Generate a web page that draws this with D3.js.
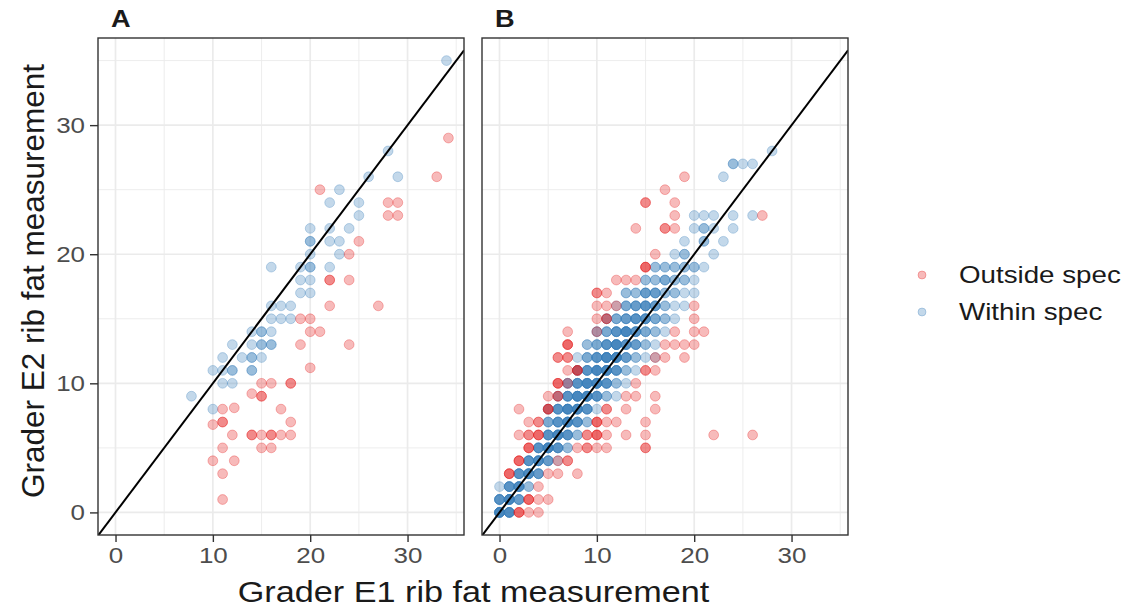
<!DOCTYPE html>
<html>
<head>
<meta charset="utf-8">
<script src="https://cdn.jsdelivr.net/npm/d3@7"></script>
<style>
  body { margin: 0; background: #fff; }
  svg { display: block; font-family: "Liberation Sans", Arial, sans-serif; }
</style>
</head>
<body>
<svg id="chart" width="1126" height="607"></svg>
<script>
// ---- data ----
const panels = ["A", "B"];
const groups = ["Outside spec", "Within spec"];
const groupColors = ["#E41A1C", "#377EB8"];
const xTicks = [0, 10, 20, 30];
const yTicks = [0, 10, 20, 30];
const minorTicks = [5, 15, 25, 35];
const xTitle = "Grader E1 rib fat measurement";
const yTitle = "Grader E2 rib fat measurement";

// panel A: [E1, E2]
const aWithin = [
  [34,35],[28,28],[26,26],[29,26],[23,25],[22,24],[25,24],[25,23],[20,22],[22,22],
  [24,22],[20,21],[20,21],[22,21],[23,21],[23,20],[20,20],[16,19],[19,19],[20,19],
  [20,19],[22,19],[19,18],[20,18],[19,17],[20,17],[16,16],[17,16],[18,16],[16,15],
  [17,15],[18,15],[14,14],[15,14],[15,14],[16,14],[12,13],[14,13],[15,13],[15,13],
  [16,13],[16,13],[11,12],[13,12],[14,12],[14,12],[15,12],[10,11],[11,11],[12,11],
  [12,11],[14,11],[14,11],[11,10],[12,10],[10,8],[7.8,9]
];
const aOutside = [
  [34.2,29],[33,26],[21,25],[28,24],[29,24],[28,23],[29,23],[25,21],[24,20],[22,18],
  [22,18],[24,18],[22,16],[27,16],[19,15],[20,15],[20,14],[21,14],[19,13],[24,13],
  [20,11.2],[15,10],[16,10],[18,10],[18,10],[14,9.2],[15,9],[15,9],[17,8],[11,8],
  [12.2,8.1],[18,7],[11,7],[11,7],[10,6.8],[12,6],[14,6],[14,6],[15,6],[16,6],
  [16,6],[17,6],[18,6],[11,5],[15,5],[16,5],[10,4],[12.2,4],[11,3],[11,1]
];

// panel B: rows of [E2, [[E1, count], ...]]
const bWithinRows = [
  [0, [[0,7],[1,6]]],
  [1, [[0,5],[1,7],[2,4]]],
  [2, [[0,1],[1,5],[2,6],[3,2]]],
  [3, [[2,5],[3,6],[4,4]]],
  [4, [[3,5],[4,6],[5,4],[6,1]]],
  [5, [[4,5],[5,7],[6,5],[7,2]]],
  [6, [[5,5],[6,7],[7,5],[8,2]]],
  [7, [[5,3],[6,5],[7,7],[8,5],[9,2]]],
  [8, [[5,2],[6,5],[7,7],[8,7],[9,5],[10,1]]],
  [9, [[6,2],[7,5],[8,7],[9,7],[10,5],[11,2],[12,1]]],
  [10, [[7,3],[8,5],[9,7],[10,7],[11,5],[12,2],[13,1]]],
  [11, [[8,3],[9,5],[10,7],[11,7],[12,5],[13,2],[14,1]]],
  [12, [[8,1],[9,3],[10,5],[11,7],[12,7],[13,4],[14,2],[15,1],[16,1]]],
  [13, [[9,2],[10,3],[11,5],[12,7],[13,5],[14,4],[15,2],[16,1]]],
  [14, [[10,2],[11,3],[12,5],[13,7],[14,5],[15,3],[16,2],[17,1]]],
  [15, [[11,2],[12,3],[13,4],[14,5],[15,5],[16,3],[17,2],[18,1]]],
  [16, [[12,1],[13,3],[14,4],[15,5],[16,4],[17,2],[18,1],[19,1]]],
  [17, [[13,2],[14,2],[15,4],[16,4],[17,2],[18,2],[19,1],[20,1]]],
  [18, [[15,2],[16,2],[17,3],[18,2],[19,2],[20,1]]],
  [19, [[16,2],[17,2],[18,2],[19,2],[20,2],[21,1]]],
  [20, [[18,1],[19,2],[22,1]]],
  [21, [[19,1],[21,2],[23,1]]],
  [22, [[20,1],[21,2],[22,1],[24,1]]],
  [23, [[20,1],[21,1],[22,1],[24,1],[26,1]]],
  [26, [[23,1]]],
  [27, [[24,2],[25,1],[26,1]]],
  [28, [[28,1]]]
];
const bOutsideRows = [
  [0, [[2,3],[3,1],[4,1]]],
  [1, [[3,3],[4,1],[5,1]]],
  [2, [[4,1]]],
  [3, [[1,3],[5,1],[6,1],[8,1]]],
  [4, [[2,3],[6,1],[7,2]]],
  [5, [[3,3],[8,1],[9,2],[10,1],[11,1],[15,2]]],
  [6, [[2,1],[3,2],[4,3],[9,2],[10,3],[11,1],[13,1],[15,1],[22,1],[26,1]]],
  [7, [[3,1],[4,2],[10,3],[11,1],[12,1],[15,1]]],
  [8, [[2,1],[5,3],[11,2],[13,1],[16,1]]],
  [9, [[5,1],[6,2],[13,1],[14,1],[16,1]]],
  [10, [[6,3],[7,1],[14,1]]],
  [11, [[7,1],[8,3],[15,2],[16,1]]],
  [12, [[6,2],[7,2],[16,1],[17,1],[19,1]]],
  [13, [[7,3],[17,1],[18,1],[19,1],[20,1]]],
  [14, [[7,1],[10,1],[18,1],[20,1],[21,1]]],
  [15, [[10,1],[11,2],[20,1]]],
  [16, [[10,1],[11,1],[12,1],[20,1]]],
  [17, [[10,2],[11,1]]],
  [18, [[12,1],[13,1],[14,1]]],
  [19, [[15,3]]],
  [20, [[16,1]]],
  [22, [[14,1],[17,2],[18,1]]],
  [23, [[18,1],[27,1]]],
  [24, [[15,2],[18,1]]],
  [25, [[17,1]]],
  [26, [[19,1]]]
];

// ---- layout ----
const SX = 1.18; // text in the reference is drawn a bit wide
const xDomain = [-1.8, 35.8];
const yDomain = [-1.75, 36.75];
const panelLeft = [98, 482];
const panelW = 366;
const panelTop = 38;
const panelBottom = 535;

const svg = d3.select("#chart");

const y = d3.scaleLinear().domain(yDomain).range([panelBottom, panelTop]);

// expand [E2, [[E1, n]]] rows into one point per observation
function rowsToPoints(rows) {
  const pts = [];
  rows.forEach(([e2, cells]) =>
    cells.forEach(([e1, n]) => {
      for (let k = 0; k < n; k++) pts.push([e1, e2]);
    })
  );
  return pts;
}

const panelData = [
  { within: aWithin, outside: aOutside },
  { within: rowsToPoints(bWithinRows), outside: rowsToPoints(bOutsideRows) }
];

function stretchedText(g, x, yy, txt) {
  return g.append("text")
    .attr("transform", `translate(${x},${yy}) scale(${SX},1)`)
    .text(txt);
}

panels.forEach((name, i) => {
  const x = d3.scaleLinear().domain(xDomain).range([panelLeft[i], panelLeft[i] + panelW]);
  const g = svg.append("g");

  g.append("clipPath").attr("id", "clip" + i)
    .append("rect")
    .attr("x", panelLeft[i]).attr("y", panelTop)
    .attr("width", panelW).attr("height", panelBottom - panelTop);

  // grid
  const grid = g.append("g").attr("stroke", "#ebebeb").attr("fill", "none");
  minorTicks.forEach((t) => {
    grid.append("line").attr("stroke-width", 0.9)
      .attr("x1", x(t)).attr("x2", x(t)).attr("y1", panelTop).attr("y2", panelBottom);
    grid.append("line").attr("stroke-width", 0.9)
      .attr("x1", panelLeft[i]).attr("x2", panelLeft[i] + panelW).attr("y1", y(t)).attr("y2", y(t));
  });
  xTicks.forEach((t) => {
    grid.append("line").attr("stroke-width", 1.7)
      .attr("x1", x(t)).attr("x2", x(t)).attr("y1", panelTop).attr("y2", panelBottom);
  });
  yTicks.forEach((t) => {
    grid.append("line").attr("stroke-width", 1.7)
      .attr("x1", panelLeft[i]).attr("x2", panelLeft[i] + panelW).attr("y1", y(t)).attr("y2", y(t));
  });

  // points
  const pg = g.append("g").attr("clip-path", `url(#clip${i})`);
  [["within", 1], ["outside", 0]].forEach(([key, ci]) => {
    pg.selectAll("circle." + key)
      .data(panelData[i][key])
      .join("circle")
      .attr("class", key)
      .attr("cx", (d) => x(d[0]))
      .attr("cy", (d) => y(d[1]))
      .attr("r", 4.9)
      .attr("fill", groupColors[ci])
      .attr("fill-opacity", 0.3)
      .attr("stroke", groupColors[ci])
      .attr("stroke-opacity", 0.3)
      .attr("stroke-width", 1);
  });

  // identity line
  pg.append("line")
    .attr("x1", x(xDomain[0])).attr("y1", y(xDomain[0]))
    .attr("x2", x(xDomain[1])).attr("y2", y(xDomain[1]))
    .attr("stroke", "#000").attr("stroke-width", 2);

  // border
  g.append("rect")
    .attr("x", panelLeft[i]).attr("y", panelTop)
    .attr("width", panelW).attr("height", panelBottom - panelTop)
    .attr("fill", "none").attr("stroke", "#333").attr("stroke-width", 1.4);

  // x axis
  const xa = g.append("g")
    .attr("transform", `translate(0,${panelBottom})`)
    .call(d3.axisBottom(x).tickValues(xTicks).tickSize(7).tickPadding(5));
  xa.select(".domain").remove();
  xa.selectAll(".tick line").attr("stroke", "#333").attr("stroke-width", 1.4);
  xa.selectAll(".tick text")
    .attr("fill", "#4d4d4d").attr("font-size", 22)
    .attr("transform", `scale(${SX},1)`);

  // y axis on first panel only
  if (i === 0) {
    const ya = g.append("g")
      .attr("transform", `translate(${panelLeft[i]},0)`)
      .call(d3.axisLeft(y).tickValues(yTicks).tickSize(8).tickPadding(0));
    ya.select(".domain").remove();
    ya.selectAll(".tick line").attr("stroke", "#333").attr("stroke-width", 1.4);
    ya.selectAll(".tick text")
      .attr("fill", "#4d4d4d").attr("font-size", 22)
      .attr("x", -13 / SX)
      .attr("transform", `scale(${SX},1)`);
  }

  // facet tag
  stretchedText(g, panelLeft[i] + 13, 27, name)
    .attr("font-weight", "bold").attr("font-size", 23).attr("fill", "#1a1a1a");
});

// axis titles
stretchedText(svg, 473.5, 602, xTitle)
  .attr("text-anchor", "middle").attr("font-size", 29).attr("fill", "#1a1a1a");

svg.append("text")
  .attr("transform", `translate(44,281) rotate(-90)`)
  .attr("text-anchor", "middle").attr("font-size", 31.5).attr("fill", "#1a1a1a")
  .text(yTitle);

// legend
const legend = svg.append("g");
groups.forEach((label, k) => {
  const ly = 275 + k * 37;
  legend.append("circle")
    .attr("cx", 922).attr("cy", ly).attr("r", 4)
    .attr("fill", groupColors[k]).attr("fill-opacity", 0.3)
    .attr("stroke", groupColors[k]).attr("stroke-opacity", 0.3);
  stretchedText(legend, 959, ly + 8, label)
    .attr("font-size", 23.5).attr("fill", "#1a1a1a");
});
</script>
</body>
</html>
